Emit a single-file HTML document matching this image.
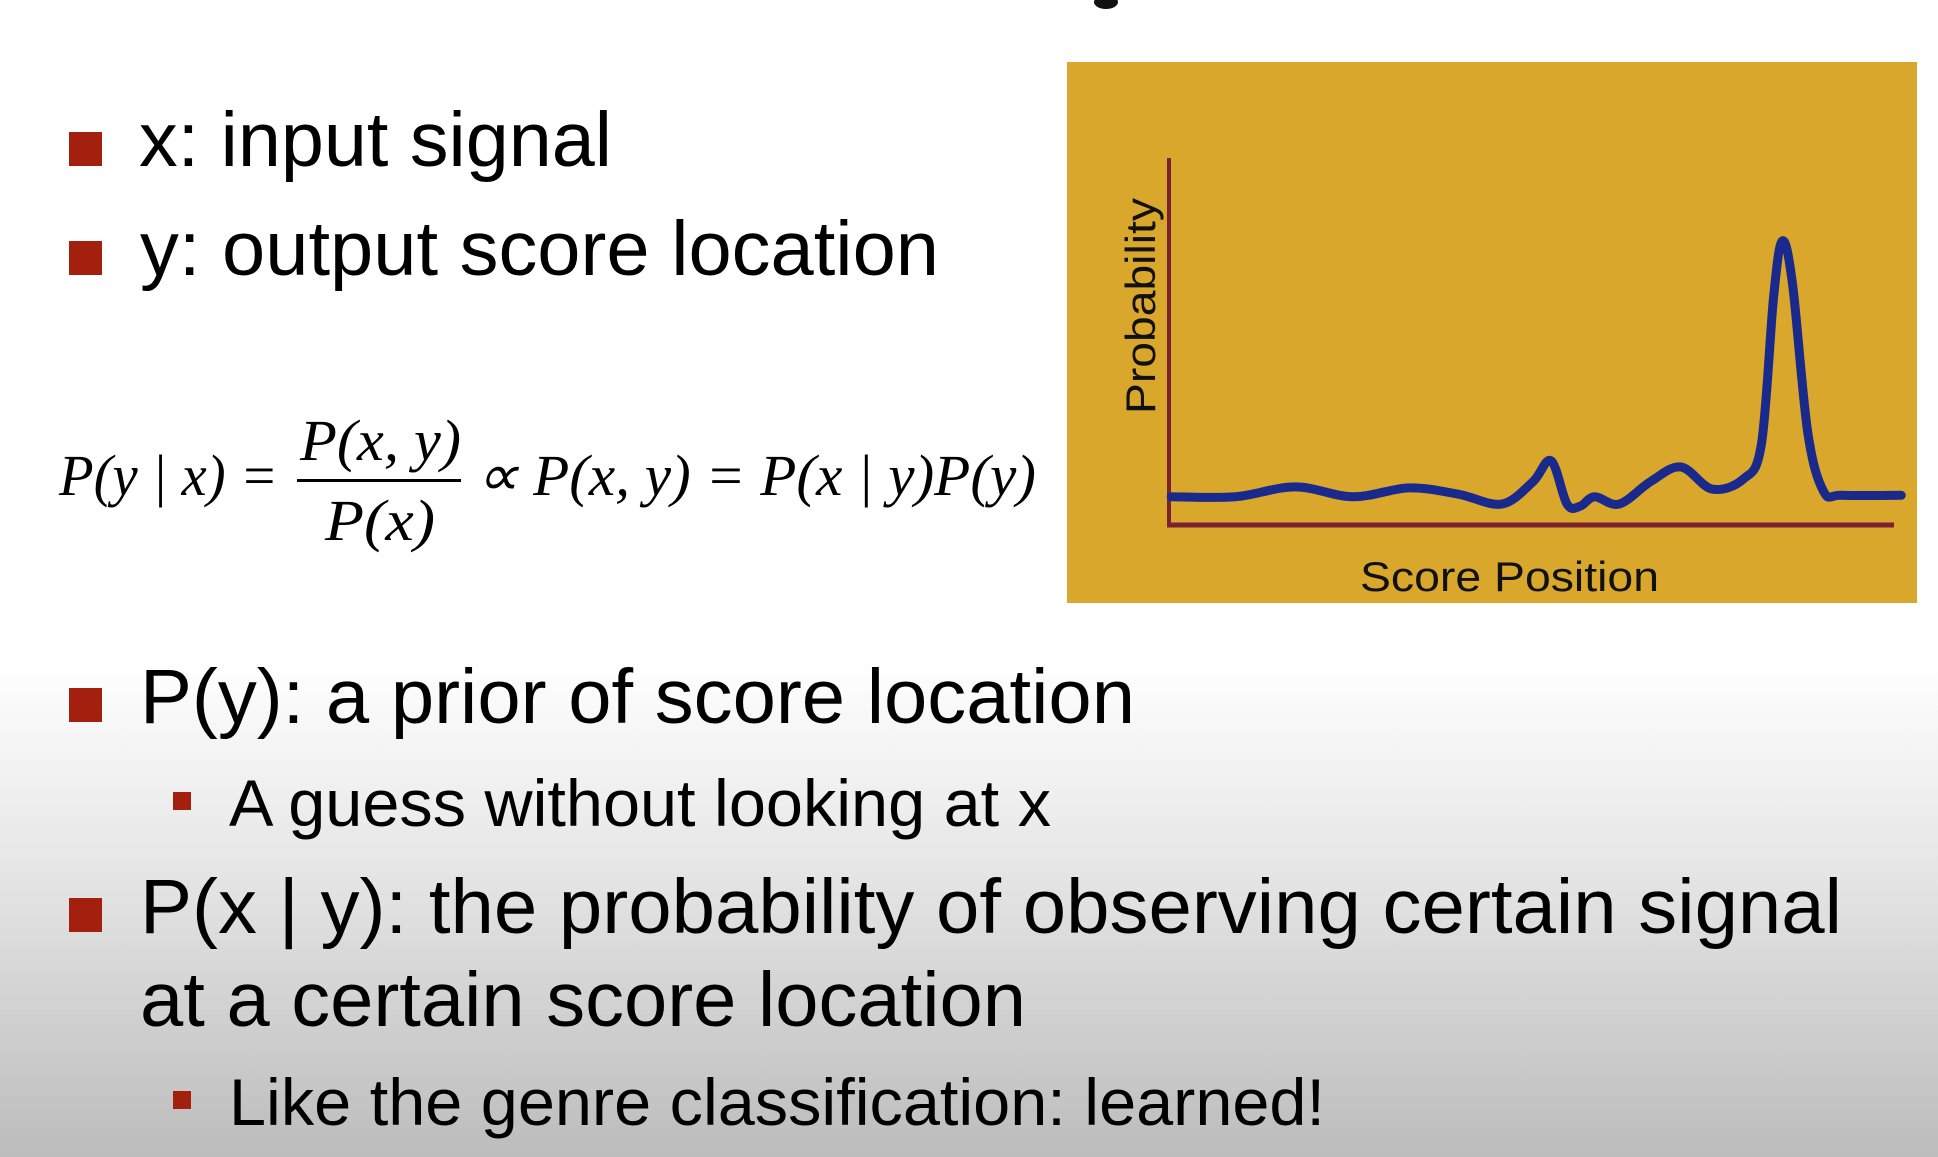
<!DOCTYPE html>
<html><head><meta charset="utf-8"><style>
html,body{margin:0;padding:0;width:1938px;height:1157px;overflow:hidden;background:#fff}
svg{display:block}
</style></head><body>
<svg id="slide" width="1938" height="1157" viewBox="0 0 1938 1157" xmlns="http://www.w3.org/2000/svg">
<defs>
<linearGradient id="bg" x1="0" y1="0" x2="0" y2="1">
<stop offset="0" stop-color="#ffffff"/>
<stop offset="0.57" stop-color="#ffffff"/>
<stop offset="0.75" stop-color="#e6e6e6"/>
<stop offset="1" stop-color="#bcbcbc"/>
</linearGradient>
</defs>
<rect x="0" y="0" width="1938" height="1157" fill="url(#bg)"/>
<ellipse cx="1106" cy="2" rx="12" ry="7" fill="#111"/>

<g font-family="Liberation Sans, Arial, sans-serif" fill="#000">
<rect x="69" y="132" width="33" height="34" fill="#a3200f"/>
<text x="139" y="166" font-size="77" textLength="473" lengthAdjust="spacingAndGlyphs">x: input signal</text>
<rect x="69" y="241" width="33" height="34" fill="#a3200f"/>
<text x="140" y="275" font-size="77" textLength="799" lengthAdjust="spacingAndGlyphs">y: output score location</text>

<rect x="69" y="688" width="33" height="34" fill="#a3200f"/>
<text x="140" y="723" font-size="77" textLength="995" lengthAdjust="spacingAndGlyphs">P(y): a prior of score location</text>
<rect x="173" y="792" width="18" height="18" fill="#a3200f"/>
<text x="229" y="826" font-size="66" textLength="822" lengthAdjust="spacingAndGlyphs">A guess without looking at x</text>
<rect x="69" y="898" width="33" height="34" fill="#a3200f"/>
<text x="140" y="933" font-size="77" textLength="1702" lengthAdjust="spacingAndGlyphs">P(x | y): the probability of observing certain signal</text>
<text x="140" y="1026" font-size="77" textLength="886" lengthAdjust="spacingAndGlyphs">at a certain score location</text>
<rect x="173" y="1091" width="18" height="18" fill="#a3200f"/>
<text x="229" y="1125" font-size="66" textLength="1096" lengthAdjust="spacingAndGlyphs">Like the genre classification: learned!</text>
</g>

<g font-family="Liberation Serif, Times New Roman, serif" font-style="italic" fill="#000" font-size="58">
<text x="59" y="495" textLength="219" lengthAdjust="spacingAndGlyphs">P(y | x) =</text>
<text x="300" y="460" textLength="161" lengthAdjust="spacingAndGlyphs">P(x, y)</text>
<rect x="297" y="479" width="164" height="3" fill="#000"/>
<text x="325" y="540" textLength="110" lengthAdjust="spacingAndGlyphs">P(x)</text>
<text x="476" y="495" textLength="560" lengthAdjust="spacingAndGlyphs">∝ P(x, y) = P(x | y)P(y)</text>
</g>

<g id="chart">
<rect x="1067" y="62" width="850" height="541" fill="#d8a72b"/>
</g>
</svg>
<script>
const scorePositions = [0.3, 9.2, 17.4, 25.4, 33.1, 39.9, 45.9, 50.2, 52.7, 54.9, 56.7, 58.7, 62.1, 66.4, 70.6, 74.9, 79.2, 81.7, 83.4, 84.6, 86.0, 88.1, 90.3, 92.8, 101];
const probabilities = [7.7, 7.7, 10.4, 7.7, 10.1, 8.4, 5.7, 11.8, 17.5, 5.7, 5.1, 7.7, 5.7, 11.8, 15.8, 9.8, 12.5, 21.9, 62.3, 77.4, 65.7, 25.3, 9.1, 8.1, 8.1];
const xAxisTitle = "Score Position";
const yAxisTitle = "Probability";

const NS = "http://www.w3.org/2000/svg";
const chart = document.getElementById('chart');
const X0 = 1169, X1 = 1894, Y0 = 525, Y1 = 158;
function xScale(v){ return X0 + (X1 - X0) * v / 100; }
function yScale(v){ return Y0 - (Y0 - Y1) * v / 100; }

function mk(tag, attrs){ const e = document.createElementNS(NS, tag); for (const k in attrs) e.setAttribute(k, attrs[k]); chart.appendChild(e); return e; }

const yAxis = mk('line', {x1: X0, y1: Y1, x2: X0, y2: Y0 + 2, stroke: '#7a2230', 'stroke-width': 4});


const xAxis = mk('line', {x1: X0 - 2, y1: Y0, x2: X1, y2: Y0, stroke: '#7a2230', 'stroke-width': 5});



const pts = scorePositions.map((s, i) => [xScale(s), yScale(probabilities[i])]);
let d = 'M' + pts[0][0] + ',' + pts[0][1];
for (let i = 0; i < pts.length - 1; i++) {
  const p0 = pts[i - 1] || pts[i], p1 = pts[i], p2 = pts[i + 1], p3 = pts[i + 2] || p2;
  const c1x = p1[0] + (p2[0] - p0[0]) / 6, c1y = p1[1] + (p2[1] - p0[1]) / 6;
  const c2x = p2[0] - (p3[0] - p1[0]) / 6, c2y = p2[1] - (p3[1] - p1[1]) / 6;
  d += ' C' + c1x + ',' + c1y + ' ' + c2x + ',' + c2y + ' ' + p2[0] + ',' + p2[1];
}
const curve = mk('path', {d: d, fill: 'none', stroke: '#1a2a8c', 'stroke-width': 9, 'stroke-linejoin': 'round', 'stroke-linecap': 'round'});



const xt = mk('text', {x: 1360, y: 591, 'font-family': 'Liberation Sans, Arial, sans-serif', 'font-size': 42, fill: '#111', textLength: 299, lengthAdjust: 'spacingAndGlyphs'});
xt.textContent = xAxisTitle;


const yt = mk('text', {x: 0, y: 0, 'font-family': 'Liberation Sans, Arial, sans-serif', 'font-size': 42, fill: '#111', textLength: 216, lengthAdjust: 'spacingAndGlyphs', transform: 'translate(1155,414) rotate(-90)'});
yt.textContent = yAxisTitle;


</script>
</body></html>
